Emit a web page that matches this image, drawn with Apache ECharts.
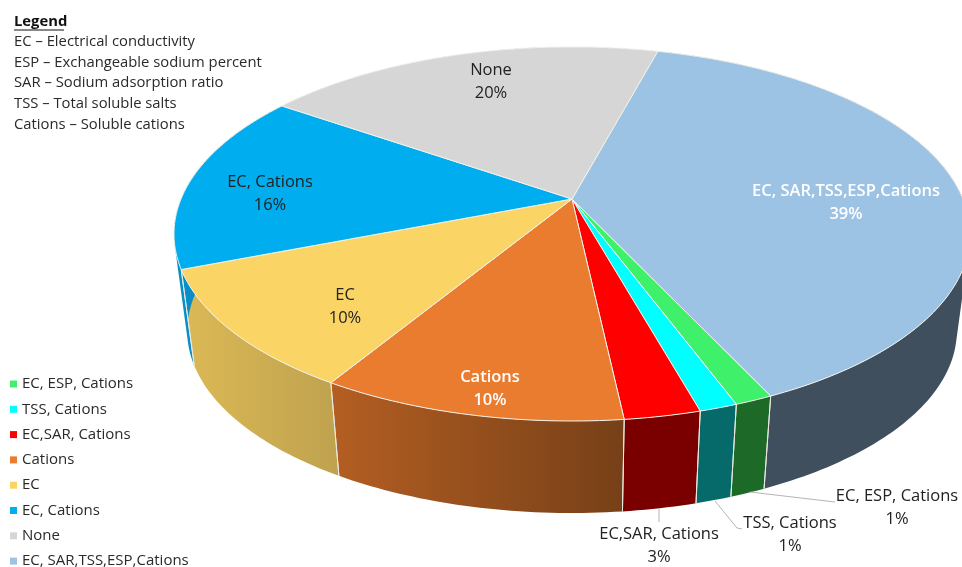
<!DOCTYPE html>
<html><head><meta charset="utf-8">
<style>html,body{margin:0;padding:0;background:#fff}#c{width:962px;height:567px}</style>
<script src="https://cdn.jsdelivr.net/npm/echarts@6/dist/echarts.min.js"></script>
</head><body><div id="c"></div>
<script>
// ---- data, pie order clockwise ----
var categories = ['EC, SAR,TSS,ESP,Cations','EC, ESP, Cations','TSS, Cations','EC,SAR, Cations','Cations','EC','EC, Cations','None'];
var values = [38.9,1.3,1.3,2.6,10.4,10.4,15.6,19.5];
var topColors = ['#9dc3e4','#3ff06a','#00ffff','#ff0000','#ea7c30','#fad566','#00aeef','#d6d6d6'];
var sideColors = [['#3f4f5e','#3f4f5e'],['#1d6a28','#1d6a28'],['#066a6a','#066a6a'],['#7a0000','#7a0000'],['#b45e22','#764018'],['#dcb955','#bfa24f'],['#0a8ec8','#0a8ec8'],['#999999','#999999']];
var legendLines = ['EC – Electrical conductivity','ESP – Exchangeable sodium percent','SAR – Sodium adsorption ratio','TSS – Total soluble salts','Cations – Soluble cations'];
var legendTitle = 'Legend';

// ---- layout ----
var FONT = '"Open Sans", sans-serif';
var START = 15, PERSP = 0.187;
var topDisc = {cx:572, cy:199, rx:391, ry:180.5};
var botDisc = {cx:572, cy:297, rx:378, ry:175.6};
var labelPos = [
  {x:846,y:203,color:'#fff',weight:600},
  {x:897,y:508,color:'#222',line:[[750,492],[835,502]]},
  {x:790,y:535,color:'#222',line:[[715,501],[737,528],[742,529]]},
  {x:659,y:546,color:'#222',line:[[659,508],[659,522]]},
  {x:490,y:389,color:'#fff',weight:600},
  {x:345,y:307,color:'#222'},
  {x:270,y:194,color:'#222'},
  {x:491,y:82,color:'#222'}
];
function pt(d,deg){var t=deg*Math.PI/180,u=Math.sin(t),v=-Math.cos(t),w=1-PERSP*v;return [d.cx+d.rx*u/w,d.cy+d.ry*v/w];}
function rim(d,a,b){var n=Math.max(2,Math.ceil(Math.abs(b-a))),o=[];for(var i=0;i<=n;i++)o.push(pt(d,a+(b-a)*i/n));return o;}
function quadPath(q){
  var area=0;
  for(var i=0;i<4;i++){var a=q[i],b=q[(i+1)%4];area+=a[0]*b[1]-b[0]*a[1];}
  if(area<0) q=q.slice().reverse();
  return 'M'+q.map(function(p){return p[0].toFixed(2)+' '+p[1].toFixed(2);}).join('L')+'Z';
}

function makeRender(i){
  return function(params,api){
    var val=api.value(0), from=START+api.value(1)*3.6, to=from+val*3.6;
    var t=rim(topDisc,from,to), b=rim(botDisc,from,to);
    var sc=sideColors[i], lp=labelPos[i], last=t.length-1, d='', k;
    for(k=0;k<last;k++) d+=quadPath([t[k],t[k+1],b[k+1],b[k]]);
    var all=t.concat(b);
    var xs=all.map(function(p){return p[0];}), ys=all.map(function(p){return p[1];});
    var x0=Math.min.apply(null,xs), x1=Math.max.apply(null,xs), y0=Math.min.apply(null,ys), y1=Math.max.apply(null,ys);
    var fill={type:'linear',x:0,y:0,x2:1,y2:0,colorStops:[{offset:0,color:sc[0]},{offset:1,color:sc[1]}]};
    var kids=[
      {type:'path',z2:1,shape:{pathData:d,layout:'cover',x:x0,y:y0,width:x1-x0,height:y1-y0},style:{fill:fill}},
      {type:'line',z2:2,shape:{x1:t[0][0],y1:t[0][1],x2:b[0][0],y2:b[0][1]},style:{stroke:'#e9e9e0',lineWidth:1}},
      {type:'line',z2:2,shape:{x1:t[last][0],y1:t[last][1],x2:b[last][0],y2:b[last][1]},style:{stroke:'#e9e9e0',lineWidth:1}},
      {type:'polygon',z2:3,shape:{points:[[topDisc.cx,topDisc.cy]].concat(t)},style:{fill:topColors[i],stroke:'#f2f2ec',lineWidth:1}}
    ];
    if(lp.line) kids.push({type:'polyline',z2:4,shape:{points:lp.line},style:{fill:'none',stroke:'#b5b5b5',lineWidth:1}});
    kids.push({type:'text',z2:5,style:{text:categories[i]+'\n'+Math.round(val)+'%',x:lp.x,y:lp.y,align:'center',verticalAlign:'middle',
        fill:lp.color,font:(lp.weight||400)+' 16.5px '+FONT,lineHeight:23}});
    return {type:'group',children:kids};
  };
}
var cum=0, series=categories.map(function(n,i){
  var s={name:n,type:'custom',coordinateSystem:'none',itemStyle:{color:topColors[i]},silent:true,
    data:[[values[i],cum]],renderItem:makeRender(i),encode:{value:[0,1]}};
  cum+=values[i];return s;
});
var graphics=[
  {type:'text',left:14,top:14,style:{text:legendTitle,font:'700 14.8px '+FONT,fill:'#111'}},
  {type:'line',shape:{x1:14,y1:30,x2:64,y2:30},style:{stroke:'#111',lineWidth:1}}
];
legendLines.forEach(function(l,i){
  graphics.push({type:'text',left:14,top:34.5+i*20.6,style:{text:l,font:'400 14.8px '+FONT,fill:'#2a2a2a'}});
});
var chart=echarts.init(document.getElementById('c'),null,{renderer:'canvas'});
chart.setOption({
  animation:false,backgroundColor:'#fff',
  legend:{orient:'vertical',left:6,top:374,height:300,itemWidth:7,itemHeight:7,itemGap:5.3,icon:'rect',padding:[0,4],selectedMode:false,
    data:categories.slice(1).concat(categories[0]),
    textStyle:{fontFamily:'Open Sans',fontSize:15,color:'#2a2a2a',lineHeight:20}},
  graphic:graphics,
  series:series
});
</script></body></html>
